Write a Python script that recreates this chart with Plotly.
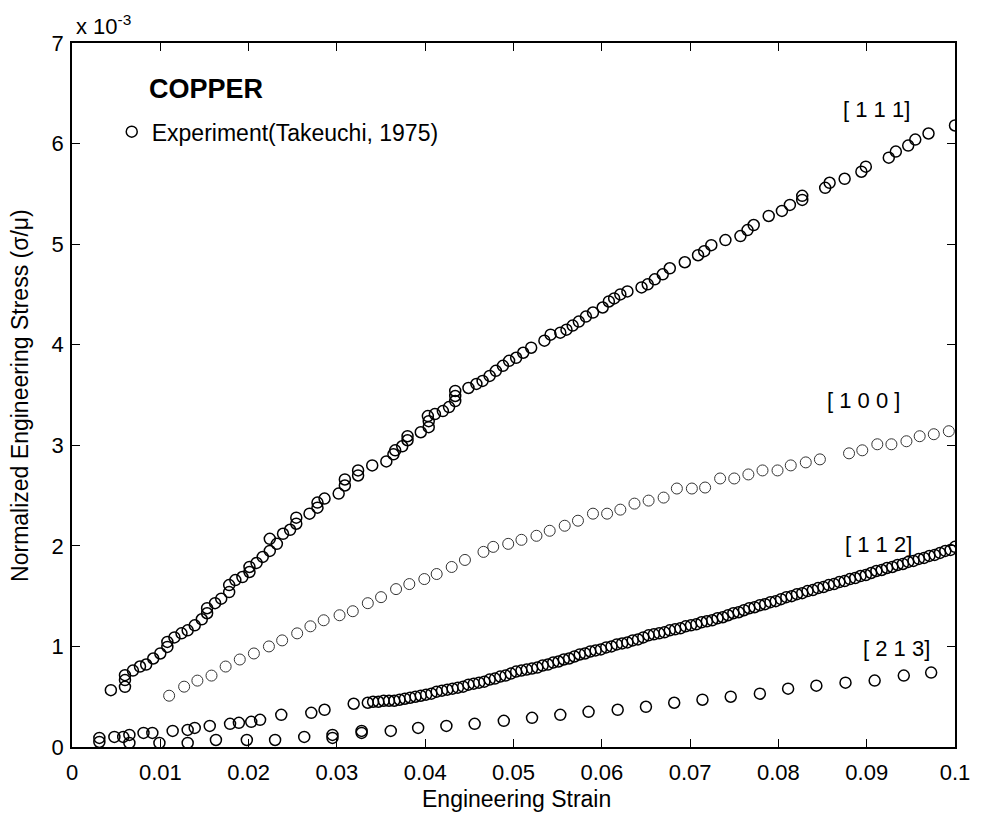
import plotly.graph_objects as go

# [1 1 1] series (strain, stress in units of 1e-3)
x111 = [0.0044, 0.0060, 0.0060, 0.0060, 0.0069, 0.0077, 0.0084, 0.0092, 0.0100, 0.0108,
        0.0108, 0.0116, 0.0124, 0.0131, 0.0139, 0.0147, 0.0153, 0.0153, 0.0162, 0.0169,
        0.0178, 0.0178, 0.0185, 0.0193, 0.0201, 0.0201, 0.0209, 0.0216, 0.0224, 0.0224,
        0.0232, 0.0239, 0.0247, 0.0254, 0.0254, 0.0269, 0.0278, 0.0278, 0.0286, 0.0302,
        0.0309, 0.0309, 0.0324, 0.0324, 0.0340, 0.0356, 0.0364, 0.0366, 0.0374, 0.0380,
        0.0380, 0.0395, 0.0404, 0.0404, 0.0403, 0.0411, 0.0420, 0.0427, 0.0434, 0.0434,
        0.0434, 0.0449, 0.0458, 0.0465, 0.0473, 0.0480, 0.0488, 0.0495, 0.0503, 0.0511,
        0.0520, 0.0535, 0.0542, 0.0553, 0.0560, 0.0567, 0.0574, 0.0582, 0.0590, 0.0601,
        0.0608, 0.0614, 0.0621, 0.0629, 0.0645, 0.0652, 0.0660, 0.0669, 0.0677, 0.0694,
        0.0709, 0.0716, 0.0724, 0.0740, 0.0757, 0.0765, 0.0772, 0.0789, 0.0804, 0.0813,
        0.0827, 0.0827, 0.0853, 0.0858, 0.0875, 0.0894, 0.0899, 0.0925, 0.0933, 0.0947,
        0.0955, 0.0970, 0.1000]
y111 = [0.565, 0.714, 0.665, 0.598, 0.76, 0.80, 0.82, 0.88, 0.93, 0.995,
        1.045, 1.09, 1.13, 1.16, 1.21, 1.27, 1.33, 1.38, 1.43, 1.475,
        1.54, 1.61, 1.66, 1.69, 1.74, 1.79, 1.83, 1.89, 1.95, 2.07,
        2.02, 2.12, 2.16, 2.22, 2.28, 2.32, 2.38, 2.43, 2.47, 2.52,
        2.60, 2.66, 2.70, 2.75, 2.80, 2.84, 2.91, 2.95, 2.99, 3.05,
        3.09, 3.13, 3.18, 3.24, 3.29, 3.31, 3.34, 3.38, 3.44, 3.49,
        3.54, 3.57, 3.61, 3.64, 3.69, 3.74, 3.79, 3.84, 3.87, 3.92,
        3.97, 4.04, 4.10, 4.12, 4.15, 4.19, 4.23, 4.28, 4.32, 4.37,
        4.43, 4.46, 4.50, 4.53, 4.57, 4.60, 4.65, 4.70, 4.76, 4.82,
        4.89, 4.93, 4.99, 5.04, 5.08, 5.14, 5.19, 5.28, 5.33, 5.39,
        5.44, 5.48, 5.56, 5.61, 5.65, 5.72, 5.77, 5.86, 5.92, 5.98,
        6.04, 6.10, 6.18]

# [1 0 0] series
x100 = [0.0110, 0.0127, 0.0142, 0.0158, 0.0174, 0.0190, 0.0206, 0.0223, 0.0238, 0.0255,
        0.0270, 0.0285, 0.0303, 0.0318, 0.0335, 0.0350, 0.0367, 0.0382, 0.0399, 0.0413,
        0.0430, 0.0445, 0.0466, 0.0477, 0.0494, 0.0509, 0.0526, 0.0541, 0.0558, 0.0573,
        0.0590, 0.0606, 0.0621, 0.0637, 0.0653, 0.0670, 0.0685, 0.0702, 0.0717, 0.0734,
        0.0750, 0.0766, 0.0782, 0.0799, 0.0814, 0.0831, 0.0847, 0.0880, 0.0895, 0.0912,
        0.0928, 0.0945, 0.0960, 0.0976, 0.0993]
y100 = [0.51, 0.60, 0.66, 0.71, 0.80, 0.87, 0.93, 1.00, 1.06, 1.13,
        1.20, 1.26, 1.31, 1.35, 1.43, 1.49, 1.57, 1.62, 1.67, 1.72,
        1.79, 1.86, 1.94, 1.99, 2.02, 2.06, 2.10, 2.15, 2.20, 2.25,
        2.32, 2.32, 2.36, 2.42, 2.45, 2.48, 2.57, 2.57, 2.58, 2.67,
        2.67, 2.71, 2.75, 2.75, 2.80, 2.83, 2.86, 2.92, 2.95, 3.01,
        3.01, 3.04, 3.09, 3.11, 3.14]

# [1 1 2] series
x112 = [0.0031, 0.0048, 0.0058, 0.0065, 0.0081, 0.0091, 0.0114, 0.0131, 0.0139, 0.0156,
        0.0179, 0.0189, 0.0203, 0.0213, 0.0237, 0.0271, 0.0286, 0.0319,
        0.0335, 0.0341, 0.0347, 0.0353, 0.0359, 0.0365, 0.0371, 0.0377, 0.0383, 0.0389,
        0.0395, 0.0401, 0.0407, 0.0413, 0.0419, 0.0425, 0.0431, 0.0437, 0.0443, 0.0449,
        0.0455, 0.0461, 0.0467, 0.0473, 0.0479, 0.0485, 0.0491, 0.0497, 0.0503, 0.0509,
        0.0515, 0.0521, 0.0527, 0.0533, 0.0539, 0.0545, 0.0551, 0.0557, 0.0563, 0.0569,
        0.0575, 0.0581, 0.0587, 0.0593, 0.0599, 0.0605, 0.0611, 0.0617, 0.0623, 0.0629,
        0.0635, 0.0641, 0.0647, 0.0653, 0.0659, 0.0665, 0.0671, 0.0677, 0.0683, 0.0689,
        0.0695, 0.0701, 0.0707, 0.0713, 0.0719, 0.0725, 0.0731, 0.0737, 0.0743, 0.0749,
        0.0755, 0.0761, 0.0767, 0.0773, 0.0779, 0.0785, 0.0791, 0.0797, 0.0803, 0.0809,
        0.0815, 0.0821, 0.0827, 0.0833, 0.0839, 0.0845, 0.0851, 0.0857, 0.0863, 0.0869,
        0.0875, 0.0881, 0.0887, 0.0893, 0.0899, 0.0905, 0.0911, 0.0917, 0.0923, 0.0929,
        0.0935, 0.0941, 0.0947, 0.0953, 0.0959, 0.0965, 0.0971, 0.0977, 0.0983, 0.0989,
        0.0995, 0.1000]
y112 = [0.09, 0.10, 0.10, 0.12, 0.14, 0.14, 0.16, 0.17, 0.19, 0.21,
        0.23, 0.24, 0.25, 0.27, 0.32, 0.34, 0.37, 0.43,
        0.44, 0.45, 0.45, 0.46, 0.46, 0.46, 0.47, 0.48, 0.49, 0.50,
        0.51, 0.52, 0.53, 0.55, 0.56, 0.57, 0.58, 0.59, 0.60, 0.62,
        0.63, 0.64, 0.65, 0.67, 0.68, 0.70, 0.71, 0.73, 0.75, 0.76,
        0.77, 0.78, 0.79, 0.81, 0.82, 0.84, 0.85, 0.87, 0.88, 0.90,
        0.92, 0.93, 0.95, 0.96, 0.97, 0.99, 1.00, 1.02, 1.03, 1.04,
        1.06, 1.07, 1.09, 1.11, 1.12, 1.13, 1.14, 1.16, 1.17, 1.18,
        1.20, 1.21, 1.22, 1.24, 1.25, 1.26, 1.28, 1.29, 1.31, 1.33,
        1.34, 1.36, 1.38, 1.39, 1.41, 1.42, 1.44, 1.45, 1.47, 1.49,
        1.50, 1.52, 1.53, 1.55, 1.56, 1.58, 1.59, 1.61, 1.62, 1.64,
        1.65, 1.67, 1.68, 1.70, 1.71, 1.73, 1.75, 1.76, 1.78, 1.79,
        1.81, 1.82, 1.84, 1.85, 1.87, 1.88, 1.90, 1.91, 1.93, 1.95,
        1.96, 1.99]

# [2 1 3] series
x213 = [0.0031, 0.0065, 0.0099, 0.0131, 0.0163, 0.0198, 0.0230, 0.0263, 0.0295, 0.0295,
        0.0328, 0.0328, 0.0361, 0.0392, 0.0424, 0.0456, 0.0489, 0.0521, 0.0553, 0.0585,
        0.0618, 0.0650, 0.0682, 0.0714, 0.0746, 0.0779, 0.0811, 0.0843, 0.0876, 0.0909,
        0.0942, 0.0973]
y213 = [0.05, 0.04, 0.04, 0.04, 0.07, 0.07, 0.07, 0.10, 0.09, 0.12,
        0.14, 0.16, 0.16, 0.19, 0.21, 0.23, 0.26, 0.29, 0.32, 0.35,
        0.37, 0.40, 0.44, 0.47, 0.50, 0.53, 0.58, 0.61, 0.64, 0.66,
        0.71, 0.74]

xtick_vals = [0, 0.01, 0.02, 0.03, 0.04, 0.05, 0.06, 0.07, 0.08, 0.09, 0.1]
xtick_text = ["0", "0.01", "0.02", "0.03", "0.04", "0.05", "0.06", "0.07", "0.08", "0.09", "0.1"]
ytick_vals = [0, 1, 2, 3, 4, 5, 6, 7]
ytick_text = ["0", "1", "2", "3", "4", "5", "6", "7"]

series_labels = ["[ 1 1 1]", "[ 1 0 0 ]", "[ 1 1 2]", "[ 2 1 3]"]
label_pos = [(0.0911, 6.34), (0.0896, 3.45), (0.0913, 2.01), (0.0934, 0.98)]

FONT = "Liberation Sans, Arial, sans-serif"

fig = go.Figure()
marker = dict(symbol="circle-open", size=11, color="black", line=dict(width=1.5, color="black"))
marker_light = dict(symbol="circle-open", size=11, color="#333", line=dict(width=1.0, color="#333"))

fig.add_trace(go.Scatter(x=x111, y=y111, mode="markers", marker=marker,
                         name="Experiment(Takeuchi, 1975)", showlegend=True))
fig.add_trace(go.Scatter(x=x100, y=y100, mode="markers", marker=marker_light, showlegend=False))
fig.add_trace(go.Scatter(x=x112, y=y112, mode="markers", marker=marker, showlegend=False))
fig.add_trace(go.Scatter(x=x213, y=y213, mode="markers", marker=marker, showlegend=False))

annotations = []
for txt, (lx, ly) in zip(series_labels, label_pos):
    annotations.append(dict(x=lx, y=ly, xref="x", yref="y", text=txt, showarrow=False,
                            font=dict(family=FONT, size=22, color="black")))

annotations += [
    dict(x=0.085, y=0.935, xref="paper", yref="paper", xanchor="left", yanchor="middle",
         text="<b>COPPER</b>", showarrow=False, font=dict(family=FONT, size=27, color="black")),
    dict(x=0.002, y=1.003, xref="paper", yref="paper", xanchor="left", yanchor="bottom",
         text="x 10<sup>-3</sup>", showarrow=False, font=dict(family=FONT, size=22, color="black")),
    dict(x=0.503, y=-0.074, xref="paper", yref="paper", xanchor="center", yanchor="middle",
         text="Engineering Strain", showarrow=False, font=dict(family=FONT, size=23, color="black")),
    dict(x=-0.059, y=0.5, xref="paper", yref="paper", xanchor="center", yanchor="middle",
         text="Normalized Engineering Stress (σ/μ)", textangle=-90, showarrow=False,
         font=dict(family=FONT, size=23, color="black")),
]

fig.update_layout(
    width=982, height=815,
    margin=dict(l=72, r=19, t=43, b=68),
    paper_bgcolor="white", plot_bgcolor="white",
    font=dict(family=FONT, size=22, color="black"),
    showlegend=True,
    legend=dict(x=0.045, y=0.874, xanchor="left", yanchor="middle", bgcolor="rgba(0,0,0,0)",
                font=dict(family=FONT, size=23, color="black"), borderwidth=0),
    annotations=annotations,
)
fig.update_xaxes(range=[0, 0.1], tickvals=xtick_vals, ticktext=xtick_text,
                 ticks="inside", ticklen=8, tickwidth=1.3, tickcolor="black",
                 showline=True, linecolor="black", linewidth=1.8, mirror="ticks",
                 showgrid=False, zeroline=False, ticklabelstandoff=5,
                 tickfont=dict(family=FONT, size=22, color="black"))
fig.update_yaxes(range=[0, 7], tickvals=ytick_vals, ticktext=ytick_text,
                 ticks="inside", ticklen=8, tickwidth=1.3, tickcolor="black",
                 showline=True, linecolor="black", linewidth=1.8, mirror="ticks",
                 showgrid=False, zeroline=False, ticklabelstandoff=2,
                 tickfont=dict(family=FONT, size=22, color="black"))

fig.write_html("out.html")
